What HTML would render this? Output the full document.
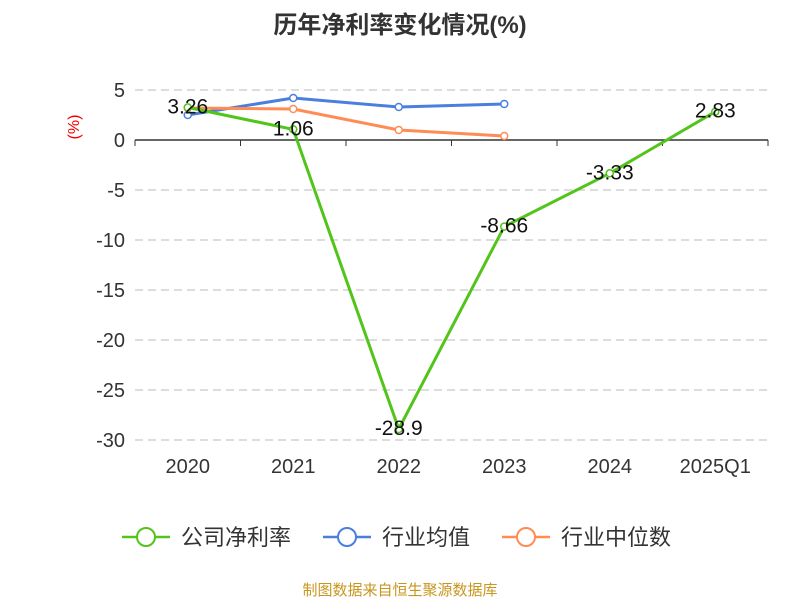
<!DOCTYPE html>
<html><head><meta charset="utf-8"><style>
body{margin:0;background:#fff;}
svg text{font-family:"Liberation Sans","Noto Sans CJK SC",sans-serif;}
</style></head><body>
<svg id="c" width="800" height="600" xmlns="http://www.w3.org/2000/svg">
<text x="400" y="33" text-anchor="middle" font-size="24" font-weight="bold" fill="#333">历年净利率变化情况(%)</text>
<text x="79" y="127" font-size="16" fill="#e00" transform="rotate(-90 79 127)" text-anchor="middle">(%)</text>
<g id="grid"></g><g id="xax"></g><g id="series"></g>
<g>
<g><line x1="122" y1="537" x2="170" y2="537" stroke="#52c41a" stroke-width="2.5"/><circle cx="146" cy="537" r="9" fill="#fff" stroke="#52c41a" stroke-width="2"/><text x="181" y="545" font-size="22" fill="#333">公司净利率</text></g>
<g><line x1="323" y1="537" x2="371" y2="537" stroke="#4a7fe0" stroke-width="2.5"/><circle cx="347" cy="537" r="9" fill="#fff" stroke="#4a7fe0" stroke-width="2"/><text x="382" y="545" font-size="22" fill="#333">行业均值</text></g>
<g><line x1="502" y1="537" x2="550" y2="537" stroke="#ff8c55" stroke-width="2.5"/><circle cx="526" cy="537" r="9" fill="#fff" stroke="#ff8c55" stroke-width="2"/><text x="561" y="545" font-size="22" fill="#333">行业中位数</text></g>
</g>
<text x="400" y="595" text-anchor="middle" font-size="15" fill="#c8961e">制图数据来自恒生聚源数据库</text>
</svg>
<script>
const categories=["2020","2021","2022","2023","2024","2025Q1"];
const companyValues=[3.26,1.06,-28.9,-8.66,-3.33,2.83];
const industryAvg=[2.5,4.2,3.3,3.6];
const industryMedian=[3.2,3.1,1.0,0.4];
const yTicks=[5,0,-5,-10,-15,-20,-25,-30];
const NS="http://www.w3.org/2000/svg";
const x0=135,x1=768,bw=(x1-x0)/categories.length;
const xS=i=>x0+bw/2+i*bw;
const yS=v=>140-v*10;
function mk(t,a,p){const e=document.createElementNS(NS,t);for(const k in a)e.setAttribute(k,a[k]);p.appendChild(e);return e;}
const grid=document.getElementById('grid'),xax=document.getElementById('xax'),ser=document.getElementById('series');
yTicks.forEach(v=>{
 const l=mk('line',{x1:x0,x2:x1,y1:yS(v),y2:yS(v),stroke:'#bbb','stroke-dasharray':'8,5'},grid);
 
 
 const t=mk('text',{x:x0-10,y:yS(v)+7,'text-anchor':'end','font-size':20,fill:'#333'},grid);
 t.textContent=v;
 
 
});
const ax=mk('line',{x1:x0,x2:x1,y1:yS(0),y2:yS(0),stroke:'#333','stroke-width':1.5},xax);


for(let i=0;i<=categories.length;i++){mk('line',{x1:x0+i*bw,x2:x0+i*bw,y1:yS(0),y2:yS(0)+6,stroke:'#333'},xax);}
categories.forEach((c,i)=>{
 const t=mk('text',{x:xS(i),y:473,'text-anchor':'middle','font-size':20,fill:'#333'},xax);
 t.textContent=c;
 
 
});
function line(vals,col,name,labels){
 const g=mk('g',{},ser);
 
 
 mk('polyline',{points:vals.map((v,i)=>xS(i)+','+yS(v)).join(' '),fill:'none',stroke:col,'stroke-width':3},g);
 vals.forEach((v,i)=>{
  const p=mk('circle',{cx:xS(i),cy:yS(v),r:3.5,fill:'#fff',stroke:col,'stroke-width':1.5},g);
  
  
  if(labels){
   const t=mk('text',{x:xS(i),y:yS(v)+6,'text-anchor':'middle','font-size':21,fill:'#111'},g);
   t.textContent=v;
   
   
  }
 });
}
line(industryAvg,'#4a7fe0','series-industry-avg',false);
line(industryMedian,'#ff8c55','series-industry-median',false);
line(companyValues,'#52c41a','series-company',true);
</script>
</body></html>
